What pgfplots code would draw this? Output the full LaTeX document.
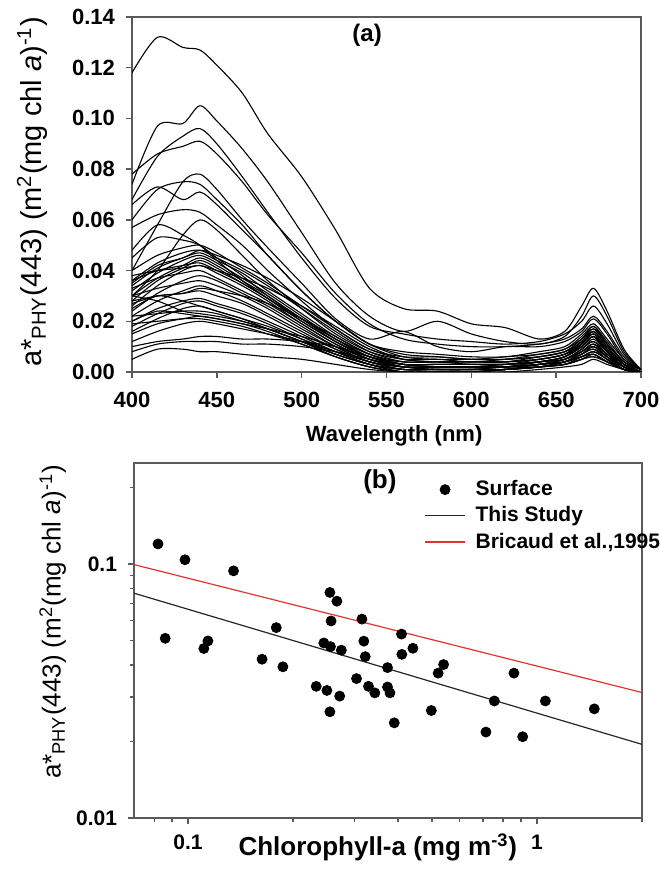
\documentclass[border=0pt]{standalone}
\usepackage{fontspec}
\setmainfont{Liberation Sans}
\usepackage{pgfplots}
\usepackage{pgfplotstable}
\pgfplotsset{compat=1.18}
\definecolor{bricaud}{RGB}{228,50,50}
\definecolor{frame}{RGB}{90,90,90}
\pgfplotsset{
  blacklegend/.style={legend image code/.code={\draw[black!85, line width=0.6pt] (0pt,0pt) -- (20pt,0pt);}},
  redlegend/.style={legend image code/.code={\draw[bricaud, line width=0.6pt] (0pt,0pt) -- (20pt,0pt);}},
  marklegend/.style={legend image code/.code={\fill[black] (10pt,0pt) circle (2.5pt);}},
}

\pgfplotstableread{
name 400 415 430 440 450 465 480 500 520 540 560 580 600 620 640 655 665 672 680 690 700
c1 0.118 0.132 0.128 0.127 0.121 0.110 0.094 0.077 0.056 0.033 0.025 0.024 0.019 0.0175 0.013 0.016 0.026 0.033 0.024 0.009 0.001
c2 0.074 0.097 0.098 0.105 0.099 0.088 0.075 0.055 0.035 0.022 0.016 0.020 0.015 0.012 0.011 0.014 0.022 0.030 0.022 0.008 0.001
c3 0.068 0.085 0.093 0.096 0.090 0.077 0.063 0.045 0.029 0.018 0.015 0.013 0.012 0.011 0.012 0.015 0.020 0.026 0.019 0.007 0.001
c4 0.078 0.086 0.089 0.091 0.086 0.075 0.062 0.047 0.031 0.019 0.013 0.011 0.010 0.010 0.011 0.013 0.017 0.022 0.016 0.006 0.001
c5 0.040 0.058 0.075 0.078 0.072 0.060 0.049 0.035 0.021 0.013 0.016 0.010 0.008 0.010 0.010 0.012 0.016 0.021 0.015 0.005 0.001
c6 0.060 0.072 0.075 0.074 0.068 0.058 0.046 0.032 0.020 0.011 0.008 0.007 0.006 0.006 0.008 0.010 0.015 0.019 0.013 0.005 0.001
c7 0.066 0.073 0.068 0.071 0.066 0.056 0.046 0.032 0.020 0.011 0.007 0.006 0.005 0.006 0.007 0.009 0.014 0.018 0.012 0.004 0.001
c8 0.057 0.062 0.064 0.063 0.058 0.050 0.040 0.028 0.017 0.009 0.006 0.006 0.005 0.005 0.007 0.009 0.013 0.017 0.011 0.004 0.001
c9 0.030 0.040 0.054 0.060 0.056 0.046 0.036 0.025 0.015 0.008 0.005 0.005 0.004 0.005 0.006 0.008 0.012 0.016 0.010 0.003 0.000
c10 0.048 0.058 0.054 0.050 0.044 0.036 0.029 0.020 0.012 0.006 0.004 0.004 0.004 0.004 0.006 0.008 0.011 0.015 0.009 0.003 0.000
c11 0.045 0.053 0.052 0.050 0.045 0.038 0.030 0.021 0.013 0.007 0.004 0.004 0.004 0.004 0.005 0.007 0.010 0.014 0.008 0.003 0.000
c12 0.040 0.046 0.049 0.050 0.047 0.041 0.035 0.026 0.017 0.009 0.005 0.004 0.004 0.004 0.005 0.007 0.012 0.017 0.011 0.004 0.000
c13 0.036 0.043 0.047 0.048 0.045 0.040 0.034 0.025 0.016 0.008 0.004 0.004 0.003 0.003 0.005 0.007 0.012 0.016 0.010 0.003 0.000
c14 0.034 0.041 0.045 0.047 0.044 0.039 0.032 0.023 0.014 0.007 0.003 0.003 0.003 0.003 0.004 0.006 0.011 0.015 0.009 0.003 0.000
c15 0.032 0.039 0.044 0.046 0.043 0.037 0.031 0.022 0.013 0.006 0.003 0.002 0.002 0.003 0.004 0.006 0.010 0.014 0.009 0.003 0.000
c16 0.030 0.037 0.042 0.045 0.042 0.036 0.030 0.021 0.012 0.006 0.002 0.002 0.002 0.002 0.004 0.006 0.011 0.015 0.009 0.003 0.000
c17 0.028 0.036 0.041 0.044 0.041 0.035 0.029 0.020 0.012 0.005 0.002 0.002 0.002 0.002 0.004 0.005 0.009 0.012 0.008 0.002 0.000
c18 0.036 0.040 0.042 0.043 0.040 0.035 0.029 0.021 0.013 0.006 0.003 0.003 0.003 0.003 0.004 0.006 0.010 0.014 0.008 0.002 0.000
c19 0.026 0.034 0.040 0.042 0.039 0.034 0.028 0.019 0.011 0.005 0.002 0.001 0.001 0.002 0.003 0.005 0.009 0.013 0.008 0.002 0.000
c20 0.033 0.037 0.039 0.040 0.037 0.032 0.027 0.019 0.011 0.005 0.002 0.002 0.002 0.002 0.003 0.005 0.008 0.011 0.007 0.002 0.000
c21 0.024 0.031 0.036 0.038 0.036 0.031 0.026 0.018 0.010 0.004 0.002 0.001 0.001 0.002 0.003 0.005 0.009 0.012 0.007 0.002 0.000
c22 0.030 0.033 0.035 0.036 0.034 0.030 0.025 0.017 0.010 0.004 0.002 0.002 0.002 0.002 0.003 0.005 0.008 0.010 0.006 0.002 0.000
c23 0.022 0.028 0.032 0.034 0.032 0.028 0.023 0.016 0.009 0.004 0.001 0.001 0.001 0.001 0.003 0.004 0.008 0.011 0.007 0.002 0.000
c24 0.028 0.030 0.031 0.032 0.030 0.027 0.022 0.015 0.009 0.004 0.001 0.001 0.001 0.001 0.003 0.004 0.007 0.009 0.006 0.002 0.000
c25 0.025 0.030 0.028 0.026 0.024 0.021 0.018 0.013 0.008 0.003 0.001 0.001 0.001 0.001 0.002 0.004 0.007 0.010 0.006 0.001 0.000
c26 0.020 0.025 0.028 0.029 0.027 0.024 0.020 0.014 0.008 0.003 0.000 0.000 0.000 0.001 0.002 0.004 0.007 0.009 0.005 0.001 0.000
c27 0.018 0.023 0.027 0.028 0.026 0.023 0.019 0.013 0.007 0.003 0.000 0.000 0.000 0.001 0.002 0.004 0.006 0.008 0.005 0.001 0.000
c28 0.030 0.028 0.024 0.023 0.022 0.020 0.017 0.012 0.007 0.003 0.001 0.001 0.001 0.001 0.002 0.004 0.007 0.010 0.006 0.001 0.000
c29 0.016 0.021 0.025 0.026 0.024 0.021 0.017 0.012 0.006 0.002 0.000 0.000 0.000 0.001 0.002 0.003 0.005 0.007 0.004 0.001 0.000
c30 0.022 0.023 0.024 0.024 0.023 0.020 0.017 0.012 0.007 0.003 0.001 0.001 0.001 0.001 0.002 0.003 0.006 0.008 0.005 0.001 0.000
c31 0.015 0.019 0.021 0.022 0.021 0.019 0.016 0.011 0.006 0.002 0.000 0.000 0.000 0.001 0.002 0.003 0.005 0.007 0.004 0.001 0.000
c32 0.019 0.020 0.021 0.021 0.020 0.018 0.015 0.011 0.006 0.002 0.000 0.000 0.000 0.001 0.002 0.003 0.005 0.006 0.004 0.001 0.000
c33 0.012 0.016 0.019 0.020 0.019 0.017 0.015 0.012 0.008 0.004 0.002 0.002 0.002 0.002 0.003 0.004 0.006 0.008 0.005 0.001 0.000
c34 0.010 0.012 0.013 0.014 0.014 0.013 0.013 0.012 0.010 0.006 0.003 0.002 0.002 0.002 0.003 0.004 0.006 0.007 0.004 0.001 0.000
c35 0.008 0.011 0.012 0.012 0.012 0.011 0.011 0.010 0.008 0.005 0.002 0.002 0.002 0.002 0.002 0.003 0.005 0.006 0.004 0.001 0.000
c36 0.005 0.009 0.009 0.008 0.008 0.007 0.006 0.005 0.003 0.001 0.000 0.000 0.000 0.000 0.001 0.002 0.003 0.005 0.003 0.001 0.000
c37 0.035 0.042 0.045 0.048 0.046 0.042 0.037 0.029 0.020 0.011 0.006 0.005 0.005 0.005 0.006 0.008 0.013 0.018 0.011 0.004 0.000
c38 0.027 0.030 0.031 0.033 0.032 0.030 0.027 0.021 0.014 0.007 0.003 0.003 0.003 0.003 0.004 0.006 0.010 0.014 0.008 0.002 0.000
c39 0.020 0.024 0.023 0.022 0.021 0.019 0.017 0.014 0.010 0.005 0.003 0.003 0.003 0.003 0.004 0.005 0.008 0.011 0.006 0.002 0.000
c40 0.038 0.040 0.041 0.042 0.040 0.037 0.033 0.026 0.018 0.010 0.005 0.004 0.004 0.004 0.005 0.007 0.011 0.016 0.010 0.003 0.000
}\rawspec
\pgfplotstabletranspose[colnames from=name]\spec\rawspec

\pgfplotstableread{
chl astar
0.082 0.120
0.086 0.051
0.098 0.104
0.111 0.0465
0.114 0.0498
0.135 0.094
0.163 0.0422
0.179 0.0562
0.187 0.0394
0.233 0.0330
0.245 0.0489
0.250 0.0318
0.255 0.0773
0.256 0.0473
0.257 0.0597
0.255 0.0262
0.267 0.0714
0.272 0.0302
0.275 0.0458
0.304 0.0354
0.315 0.0607
0.319 0.0497
0.322 0.0432
0.329 0.0330
0.343 0.0311
0.373 0.0391
0.373 0.0328
0.379 0.0311
0.390 0.0237
0.409 0.0530
0.410 0.0441
0.441 0.0466
0.498 0.0265
0.521 0.0372
0.540 0.0402
0.714 0.0218
0.755 0.0289
0.859 0.0372
0.910 0.0209
1.057 0.0289
1.460 0.0269
}\surface

\begin{document}
\begin{tikzpicture}
\useasboundingbox (0pt,0pt) rectangle (329.5pt,436.5pt);
\pgfplotsset{
  common/.style={
    scale only axis,
    anchor=south west,
    axis line style={draw=frame, line width=0.7pt},
    tick style={draw=frame, line width=0.7pt},
    tick align=outside,
    tick pos=left,
    major tick length=3pt,
    minor tick length=2pt,
    /pgf/number format/assume math mode=true,
    clip=true,
  },
}
% ---------------- panel (a)
\begin{axis}[common,
  at={(66pt,250.5pt)}, width=254.5pt, height=177.5pt,
  xmin=400, xmax=700, ymin=0, ymax=0.14,
  xtick={400,450,500,550,600,650,700},
  ytick={0,0.02,0.04,0.06,0.08,0.10,0.12,0.14},
  scaled y ticks=false,
  tick label style={font=\fontsize{11}{12}\selectfont\bfseries},
  xticklabel style={yshift=-3.5pt},
  yticklabel style={xshift=-2pt, /pgf/number format/fixed, /pgf/number format/fixed zerofill, /pgf/number format/precision=2},
  xlabel={Wavelength (nm)},
  xlabel style={font=\fontsize{11}{12}\selectfont\bfseries, at={(axis description cs:0.515,-0.18)}, anchor=center},
  ylabel={a*\textsubscript{PHY}(443) (m\textsuperscript{2}(mg chl \textit{a})\textsuperscript{-1})},
  ylabel style={font=\fontsize{14.5}{15.5}\selectfont, at={(axis description cs:-0.196,0.507)}, anchor=center},
]
\pgfplotsinvokeforeach{1,...,40}{
  \addplot[black, line width=0.55pt, smooth, tension=0.5] table[x=colnames, y=c#1] {\spec};
}
\node[font=\fontsize{12}{13}\selectfont\bfseries] at (axis description cs:0.462,0.949) {(a)};
\end{axis}
% ---------------- panel (b)
\begin{axis}[common,
  at={(67pt,27.5pt)}, width=254pt, height=177.5pt,
  xmode=log, ymode=log,
  xmin=0.07, xmax=2, ymin=0.01, ymax=0.25,
  xtick={0.1,1}, xticklabels={0.1,1},
  ytick={0.01,0.1}, yticklabels={0.01,0.1},
  minor xtick={0.08,0.09,0.2,0.3,0.4,0.5,0.6,0.7,0.8,0.9,2},
  minor ytick={0.02,0.03,0.04,0.05,0.06,0.07,0.08,0.09,0.2},
  tick label style={font=\fontsize{10.5}{12}\selectfont\bfseries},
  xticklabel style={yshift=-2pt},
  yticklabel style={xshift=-2pt},
  xlabel={Chlorophyll-a (mg m\textsuperscript{-3})},
  xlabel style={font=\fontsize{13}{14}\selectfont\bfseries, at={(axis description cs:0.48,-0.082)}, anchor=center},
  ylabel={a*\textsubscript{PHY}(443) (m\textsuperscript{2}(mg chl \textit{a})\textsuperscript{-1})},
  ylabel style={font=\fontsize{13}{14}\selectfont, at={(axis description cs:-0.16,0.552)}, anchor=center},
  legend style={at={(axis description cs:0.571,0.963)}, anchor=north west, draw=none, fill=none,
    font=\fontsize{10.5}{11.5}\selectfont\bfseries, row sep=0pt, column sep=3pt, inner sep=0pt},
  legend cell align=left,
]
\addplot[only marks, mark=*, mark size=2.5pt, black, marklegend]
  table[x=chl, y=astar] {\surface};
\addlegendentry{Surface}
\addplot[black!85, line width=0.6pt, blacklegend]
  coordinates {(0.07,0.0768) (2,0.0195)};
\addlegendentry{This Study}
\addplot[bricaud, line width=0.6pt, redlegend]
  coordinates {(0.07,0.0995) (2,0.0312)};
\addlegendentry{Bricaud et al.,1995}
\node[font=\fontsize{13}{14}\selectfont\bfseries] at (axis description cs:0.484,0.946) {(b)};
\end{axis}
\end{tikzpicture}
\end{document}
